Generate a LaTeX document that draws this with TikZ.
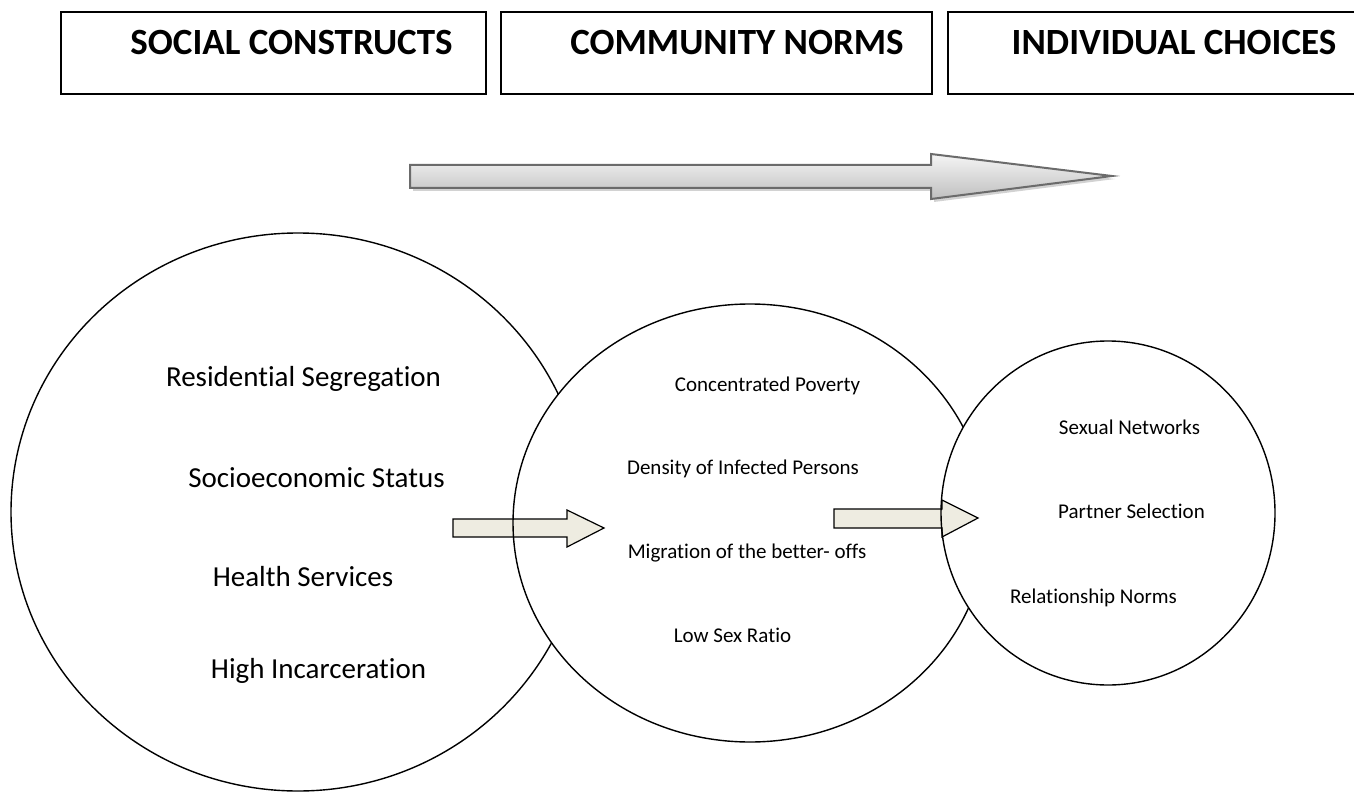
\documentclass[tikz,border=0pt]{standalone}
\usepackage{fontspec}
\setmainfont{Carlito}[Ligatures={NoCommon}]
\begin{document}
\begin{tikzpicture}[x=1pt,y=-1pt,
  titlebox/.style={draw=black,line width=1.4pt},
  titletext/.style={anchor=base,inner sep=0pt,font=\bfseries\fontsize{37}{44}\selectfont},
  bigtext/.style={anchor=base,inner sep=0pt,font=\fontsize{29}{35}\selectfont},
  smalltext/.style={anchor=base,inner sep=0pt,font=\fontsize{21}{25}\selectfont},
  ring/.style={draw=black,line width=1.4pt},
  blockarrow/.style={draw=black,line width=1.2pt,fill=arrowfill,line join=miter},
]
\definecolor{arrowfill}{HTML}{EEECE1}
\definecolor{bigedge}{HTML}{6B6B6B}
\useasboundingbox (0,0) rectangle (1354,794);
\clip (0,0) rectangle (1354,794);

% title boxes
\draw[titlebox] (61,12) rectangle (486,94);
\draw[titlebox] (501,12) rectangle (932,94);
\draw[titlebox] (948,12) rectangle (1362,94);
\node[titletext] (t1) at (291.5,54.5) {SOCIAL CONSTRUCTS};
\node[titletext] (t2) at (737,54.5) {COMMUNITY NORMS};
\node[titletext] (t3) at (1174,54.5) {INDIVIDUAL CHOICES};

% big grey arrow (shadow, then body)
\fill[gray!35] (413,168) -- (934,168) -- (934,157) -- (1115,179) -- (934,202) -- (934,191) -- (413,191) -- cycle;
\draw[draw=bigedge,line width=2pt,top color=gray!8,bottom color=gray!50,line join=miter]
  (410,165) -- (931,165) -- (931,154) -- (1112,176) -- (931,199) -- (931,188) -- (410,188) -- cycle;

% circles
\coordinate (c1) at (298,512);
\coordinate (c2) at (750,523);
\coordinate (c3) at (1108,513);
\filldraw[ring,fill=white] (c1) ellipse [x radius=287pt, y radius=279pt];
% circle 2 (fill), arrow 1, outline
\fill[white] (c2) ellipse [x radius=237pt, y radius=219pt];
\draw[blockarrow] (453,519) -- (567,519) -- (567,510) -- (604,528) -- (567,547) -- (567,537) -- (453,537) -- cycle;
\draw[ring] (c2) ellipse [x radius=237pt, y radius=219pt];
% circle 3 (fill), arrow 2, outline
\fill[white] (c3) ellipse [x radius=167pt, y radius=172pt];
\draw[blockarrow] (834,509) -- (942,509) -- (942,500) -- (978,518) -- (942,537) -- (942,528) -- (834,528) -- cycle;
\draw[ring] (c3) ellipse [x radius=167pt, y radius=172pt];

% texts circle 1
\node[bigtext] (a1) at (303.5,386) {Residential Segregation};
\node[bigtext] (a2) at (316.5,487) {Socioeconomic Status};
\node[bigtext] (a3) at (303,586) {Health Services};
\node[bigtext] (a4) at (318.5,678) {High Incarceration};

% texts circle 2
\node[smalltext] (b1) at (767.5,391) {Concentrated Poverty};
\node[smalltext] (b2) at (743,474) {Density of Infected Persons};
\node[smalltext] (b3) at (747,558) {Migration of the better- offs};
\node[smalltext] (b4) at (732.5,642) {Low Sex Ratio};

% texts circle 3
\node[smalltext] (d1) at (1129.5,434) {Sexual Networks};
\node[smalltext] (d2) at (1131.5,518) {Partner Selection};
\node[smalltext] (d3) at (1093.5,603) {Relationship Norms};
\end{tikzpicture}
\end{document}
